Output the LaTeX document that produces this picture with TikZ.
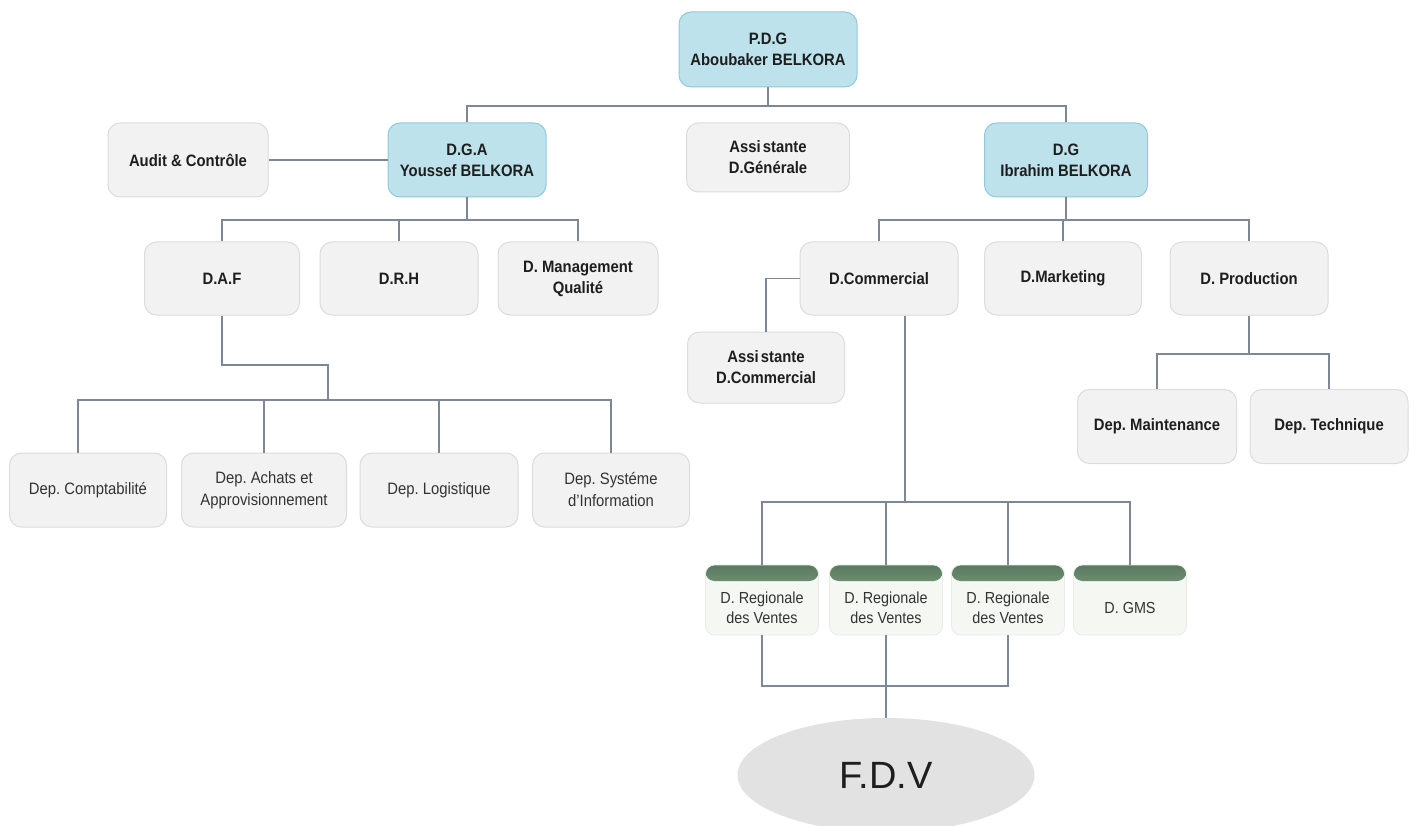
\documentclass[tikz,border=0pt]{standalone}
\usepackage{fontspec}
\setmainfont{Liberation Sans}[FakeStretch=0.9]
\newfontfamily\widefont{Liberation Sans}
\usetikzlibrary{shapes.geometric}
\frenchspacing

\definecolor{linec}{HTML}{7D8896}
\definecolor{boxfill}{HTML}{F2F2F2}
\definecolor{boxdraw}{HTML}{DCDCDC}
\definecolor{bluefill}{HTML}{BEE2EB}
\definecolor{bluedraw}{HTML}{8FCAD9}
\definecolor{hdrtop}{HTML}{587A5E}
\definecolor{hdrbot}{HTML}{B3CAAF}
\definecolor{greenfill}{HTML}{F4F7F2}
\definecolor{ellfill}{HTML}{E2E2E2}
\definecolor{txt}{HTML}{1E1E1E}
\definecolor{txtlight}{HTML}{333333}

\tikzset{
  box/.style={rounded corners=12pt, fill=boxfill, draw=boxdraw, line width=1pt,
    align=center, inner sep=2pt, text=txt,
    font=\bfseries\fontsize{16.5}{21}\selectfont},
  bluebox/.style={box, fill=bluefill, draw=bluedraw},
  depbox/.style={box, text=txtlight, font=\fontsize{16.5}{22}\selectfont},
  vbox/.style={rounded corners=9pt, fill=greenfill, draw=boxdraw!60, line width=0.8pt,
    minimum width=113pt, minimum height=70pt,
    path picture={\shade[top color=hdrtop, bottom color=hdrbot]
      (path picture bounding box.north west) rectangle
      ([yshift=-16pt]path picture bounding box.north east);}},
  vlabel/.style={align=center, text=txtlight, font=\fontsize{16}{20}\selectfont, yshift=-8pt},
  link/.style={draw=linec, line width=1.4pt},
}

\begin{document}
\begin{tikzpicture}[x=1pt, y=-1pt]
\clip (0,0) rectangle (1416,826);
\fill[white] (0,0) rectangle (1416,826);

% bus levels
\coordinate (top) at (768,106);
\coordinate (bA) at (0,220);
\coordinate (bB) at (0,400);
\coordinate (bend) at (328,365);
\coordinate (bC) at (0,502);
\coordinate (bD) at (0,354);
\coordinate (bE) at (0,686);

% direction
\node[bluebox, minimum width=178pt, minimum height=75pt] (pdg) at (768,49.5) {P.D.G\\Aboubaker BELKORA};
\node[bluebox, minimum width=158pt, minimum height=74pt] (dga) at (467,160) {D.G.A\\Youssef BELKORA};
\node[box, minimum width=160pt, minimum height=74pt] (audit) at (188,160) {Audit \& Contrôle};
\node[box, minimum width=163pt, minimum height=69pt] (asg) at (768,157.5) {Assi\kern2pt stante\\D.Générale};
\node[bluebox, minimum width=163pt, minimum height=74pt] (dg) at (1066,160) {D.G\\Ibrahim BELKORA};

% directions under the D.G.A
\node[box, minimum width=155pt, minimum height=73pt] (daf) at (222,278.5) {D.A.F};
\node[box, minimum width=158pt, minimum height=73pt] (drh) at (399,278.5) {D.R.H};
\node[box, minimum width=160pt, minimum height=73pt] (dmq) at (578,278.5) {D. Management\\Qualité};

% departments under the D.A.F
\node[depbox, minimum width=157pt, minimum height=74pt] (comp) at (88,490) {Dep. Comptabilité};
\node[depbox, minimum width=165pt, minimum height=74pt] (achat) at (264,490) {Dep. Achats et\\Approvisionnement};
\node[depbox, minimum width=158pt, minimum height=74pt] (logi) at (439,490) {Dep. Logistique};
\node[depbox, minimum width=157pt, minimum height=74pt] (sysi) at (611,490) {Dep. Systéme\\d\char"0027Information};

% directions under the D.G
\node[box, minimum width=158pt, minimum height=73pt] (dcom) at (879,278.5) {D.Commercial};
\node[box, minimum width=157pt, minimum height=73pt] (dmkt) at (1063,278.5) {D.Marketing};
\node[box, minimum width=158pt, minimum height=73pt] (dprod) at (1249,278.5) {D. Production};
\node[box, minimum width=157pt, minimum height=71pt] (asc) at (766,367.5) {Assi\kern2pt stante\\D.Commercial};

% departments under production
\node[box, minimum width=159pt, minimum height=74pt] (mnt) at (1157,426.5) {Dep. Maintenance};
\node[box, minimum width=158pt, minimum height=74pt] (tech) at (1329,426.5) {Dep. Technique};

% regional sales directions
\node[vbox, label={[vlabel]center:{D. Regionale\\des Ventes}}] (rv1) at (762,600) {};
\node[vbox, label={[vlabel]center:{D. Regionale\\des Ventes}}] (rv2) at (886,600) {};
\node[vbox, label={[vlabel]center:{D. Regionale\\des Ventes}}] (rv3) at (1008,600) {};
\node[vbox, label={[vlabel]center:{D. GMS}}] (gms) at (1130,600) {};

% sales force
\node[ellipse, fill=ellfill, minimum width=297pt, minimum height=114pt, inner sep=0pt,
      text=txt, font=\widefont\fontsize{38}{44}\selectfont] (fdv) at (886,775) {F.D.V};

% connectors
\draw[link] (pdg.south) -- (pdg.south |- top);
\draw[link] (dga.north) -- (dga.north |- top) -- (dg.north |- top) -- (dg.north);
\draw[link] (audit.east) -- (dga.west);

\draw[link] (dga.south) -- (dga.south |- bA);
\draw[link] (daf.north) -- (daf.north |- bA) -- (dmq.north |- bA) -- (dmq.north);
\draw[link] (drh.north) -- (drh.north |- bA);

\draw[link] (daf.south) -- (daf.south |- bend) -- (bend) -- (bend |- bB);
\draw[link] ([xshift=-10pt]comp.north) -- ([xshift=-10pt]comp.north |- bB)
  -- (sysi.north |- bB) -- (sysi.north);
\draw[link] (achat.north) -- (achat.north |- bB);
\draw[link] (logi.north) -- (logi.north |- bB);

\draw[link] (dg.south) -- (dg.south |- bA);
\draw[link] (dcom.north) -- (dcom.north |- bA) -- (dprod.north |- bA) -- (dprod.north);
\draw[link] (dmkt.north) -- (dmkt.north |- bA);
\draw[link] (dcom.west) -| (asc.north);

\draw[link] (dprod.south) -- (dprod.south |- bD);
\draw[link] (mnt.north) -- (mnt.north |- bD) -- (tech.north |- bD) -- (tech.north);

\draw[link] ([xshift=26pt]dcom.south) -- ([xshift=26pt]dcom.south |- bC);
\draw[link] (rv1.north) -- (rv1.north |- bC) -- (gms.north |- bC) -- (gms.north);
\draw[link] (rv2.north) -- (rv2.north |- bC);
\draw[link] (rv3.north) -- (rv3.north |- bC);

\draw[link] (rv1.south) -- (rv1.south |- bE) -- (rv3.south |- bE) -- (rv3.south);
\draw[link] (rv2.south) -- (fdv.north);
\end{tikzpicture}
\end{document}
